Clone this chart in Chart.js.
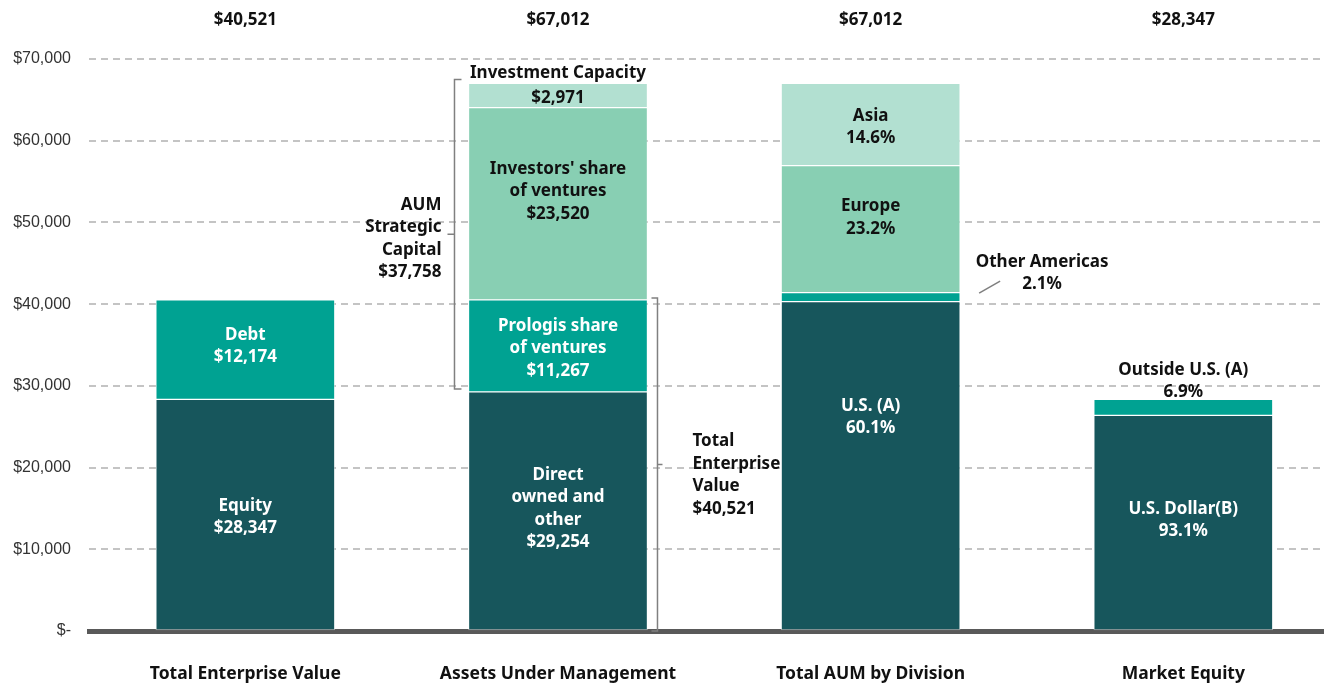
<!DOCTYPE html>
<html>
<head>
<meta charset="utf-8">
<script src="https://cdn.jsdelivr.net/npm/chart.js@4.4.1/dist/chart.umd.min.js"></script>
<style>
  html, body { margin: 0; padding: 0; background: #fff; }
  #wrap { width: 1324px; height: 684px; }
</style>
</head>
<body>
<div id="wrap"><canvas id="chart" width="1324" height="684"></canvas></div>
<script>
const categories = ["Total Enterprise Value", "Assets Under Management", "Total AUM by Division", "Market Equity"];
const totals = ["$40,521", "$67,012", "$67,012", "$28,347"];

// stacked layers, bottom to top
const baseValues  = [28347, 29254, 40300, 26391];
const midValues   = [12174, 11267, 1100, 1956];
const upperValues = [null, 23520, 15550, null];
const topValues   = [null, 2971, 10062, null];

const baseLabels  = [["Equity", "$28,347"], ["Direct", "owned and", "other", "$29,254"], ["U.S. (A)", "60.1%"], ["U.S. Dollar(B)", "93.1%"]];
const midLabels   = [["Debt", "$12,174"], ["Prologis share", "of ventures", "$11,267"], null, null];
const upperLabels = [null, ["Investors' share", "of ventures", "$23,520"], ["Europe", "23.2%"], null];
const topLabels   = [null, ["$2,971"], ["Asia", "14.6%"], null];

const yTicks = [0, 10000, 20000, 30000, 40000, 50000, 60000, 70000];

const strategicCapital = { from: 29254, to: 67012, text: ["AUM", "Strategic", "Capital", "$37,758"] };
const enterpriseValue = { from: 0, to: 40521, text: ["Total", "Enterprise", "Value", "$40,521"] };

const COLORS = ["#17565c", "#00a292", "#88cfb3", "#b2e0d1"];
const TEXT_COLORS = ["#ffffff", "#ffffff", "#111111", "#111111"];
const FONT = '"Noto Sans", sans-serif';
const LINE_H = 22.5;

// small nudges so the labels sit where the original has them
const labelShift = { "1-0": -6, "2-1": -15, "0-1": -5, "0-2": -51, "0-3": -5, "2-2": -14 };

const layers = [baseValues, midValues, upperValues, topValues];
const layerLabels = [baseLabels, midLabels, upperLabels, topLabels];

function drawLines(ctx, lines, x, cy, align) {
  ctx.textAlign = align || "center";
  ctx.textBaseline = "middle";
  const start = cy + 2.5 - (lines.length - 1) * LINE_H / 2;
  lines.forEach((t, k) => ctx.fillText(t, x, start + k * LINE_H));
}

const annotations = {
  id: "annotations",
  afterDatasetsDraw(chart) {
    const ctx = chart.ctx;
    const y = chart.scales.y;
    const area = chart.chartArea;
    ctx.save();
    ctx.font = `bold 17px ${FONT}`;

    // labels inside the segments
    layers.forEach((vals, d) => {
      const meta = chart.getDatasetMeta(d);
      vals.forEach((v, i) => {
        const lines = layerLabels[d][i];
        if (v == null || !lines) return;
        const el = meta.data[i];
        ctx.fillStyle = TEXT_COLORS[d];
        const cy = (el.y + el.base) / 2 + (labelShift[`${d}-${i}`] || 0);
        drawLines(ctx, lines, el.x, cy);
      });
    });

    const bar = (d, i) => chart.getDatasetMeta(d).data[i];
    ctx.fillStyle = "#111111";

    // totals above the plot
    totals.forEach((t, i) => drawLines(ctx, [t], bar(0, i).x, area.top - 41));

    // Investment Capacity
    const ic = bar(3, 1);
    drawLines(ctx, ["Investment Capacity"], ic.x, ic.y - 13);

    // Other Americas with leader line
    const oa = bar(1, 2);
    const right = oa.x + oa.width / 2;
    const ly = (oa.y + oa.base) / 2 - 4;
    ctx.strokeStyle = "#7f7f7f";
    ctx.lineWidth = 1.5;
    ctx.beginPath();
    ctx.moveTo(right + 19, ly);
    ctx.lineTo(right + 40, ly - 12);
    ctx.stroke();
    drawLines(ctx, ["Other Americas", "2.1%"], right + 82, ly - 22.5);

    // Outside U.S.
    const ou = bar(1, 3);
    drawLines(ctx, ["Outside U.S. (A)", "6.9%"], ou.x, ou.y - 20.5);

    // brackets
    ctx.strokeStyle = "#808080";
    ctx.lineWidth = 1.5;
    const b2 = bar(0, 1);
    // left bracket: strategic capital
    let bx = b2.x - b2.width / 2 - 14;
    let top = y.getPixelForValue(strategicCapital.to) - 4;
    let bot = y.getPixelForValue(strategicCapital.from) - 3;
    let mid = (top + bot) / 2;
    ctx.beginPath();
    ctx.moveTo(bx + 7, top); ctx.lineTo(bx, top); ctx.lineTo(bx, bot); ctx.lineTo(bx + 7, bot);
    ctx.moveTo(bx, mid); ctx.lineTo(bx - 7, mid);
    ctx.stroke();
    drawLines(ctx, strategicCapital.text, bx - 13, mid + 2, "right");

    // right bracket: enterprise value
    bx = b2.x + b2.width / 2 + 10;
    top = y.getPixelForValue(enterpriseValue.to) - 2;
    bot = y.getPixelForValue(enterpriseValue.from);
    mid = (top + bot) / 2;
    ctx.beginPath();
    ctx.moveTo(bx - 6, top); ctx.lineTo(bx, top); ctx.lineTo(bx, bot); ctx.lineTo(bx - 6, bot);
    ctx.moveTo(bx, mid); ctx.lineTo(bx + 5, mid);
    ctx.stroke();
    drawLines(ctx, enterpriseValue.text, bx + 35, mid + 8, "left");

    ctx.restore();
  }
};

const ctx = document.getElementById("chart").getContext("2d");
new Chart(ctx, {
  type: "bar",
  data: {
    datasets: layers.map((vals, d) => ({
      data: vals.map((v, i) => ({ x: i, y: v })),
      backgroundColor: COLORS[d],
      borderColor: "rgba(255,255,255,0.45)",
      borderWidth: 1,
      borderSkipped: false,
      barThickness: 179,
    })),
  },
  options: {
    responsive: false,
    animation: false,
    devicePixelRatio: 1,
    layout: { padding: { top: 59, right: 0, bottom: 0, left: 0 } },
    plugins: { legend: { display: false }, tooltip: { enabled: false } },
    scales: {
      x: {
        type: "linear",
        stacked: true,
        offset: false,
        bounds: "data",
        min: -0.5,
        max: 3.45,
        afterBuildTicks: (s) => { s.ticks = categories.map((c, i) => ({ value: i })); },
        afterFit: (s) => { s.height = 53; },
        ticks: {
          callback: (v) => categories[v],
          font: { family: FONT, size: 17.5, weight: "bold" },
          color: "#111111",
          padding: 33,
          maxRotation: 0,
          autoSkip: false,
        },
        grid: { display: false, drawTicks: false },
        border: { display: true, color: "#595959", width: 5 },
      },
      y: {
        stacked: true,
        min: 0,
        max: 70000,
        afterBuildTicks: (s) => { s.ticks = yTicks.map((v) => ({ value: v })); },
        afterFit: (s) => { s.width = 89; },
        ticks: {
          callback: (v) => (v === 0 ? "$-" : "$" + v.toLocaleString("en-US")),
          font: { family: '"Liberation Sans", Arial, sans-serif', size: 16 },
          color: "#333333",
          padding: 18,
        },
        grid: {
          drawTicks: false,
          color: (c) => (c.tick && c.tick.value === 0 ? "rgba(0,0,0,0)" : "#c4c4c4"),
          lineWidth: 2,
        },
        border: { display: false, dash: [7, 5] },
      },
    },
  },
  plugins: [annotations],
});
</script>
</body>
</html>
